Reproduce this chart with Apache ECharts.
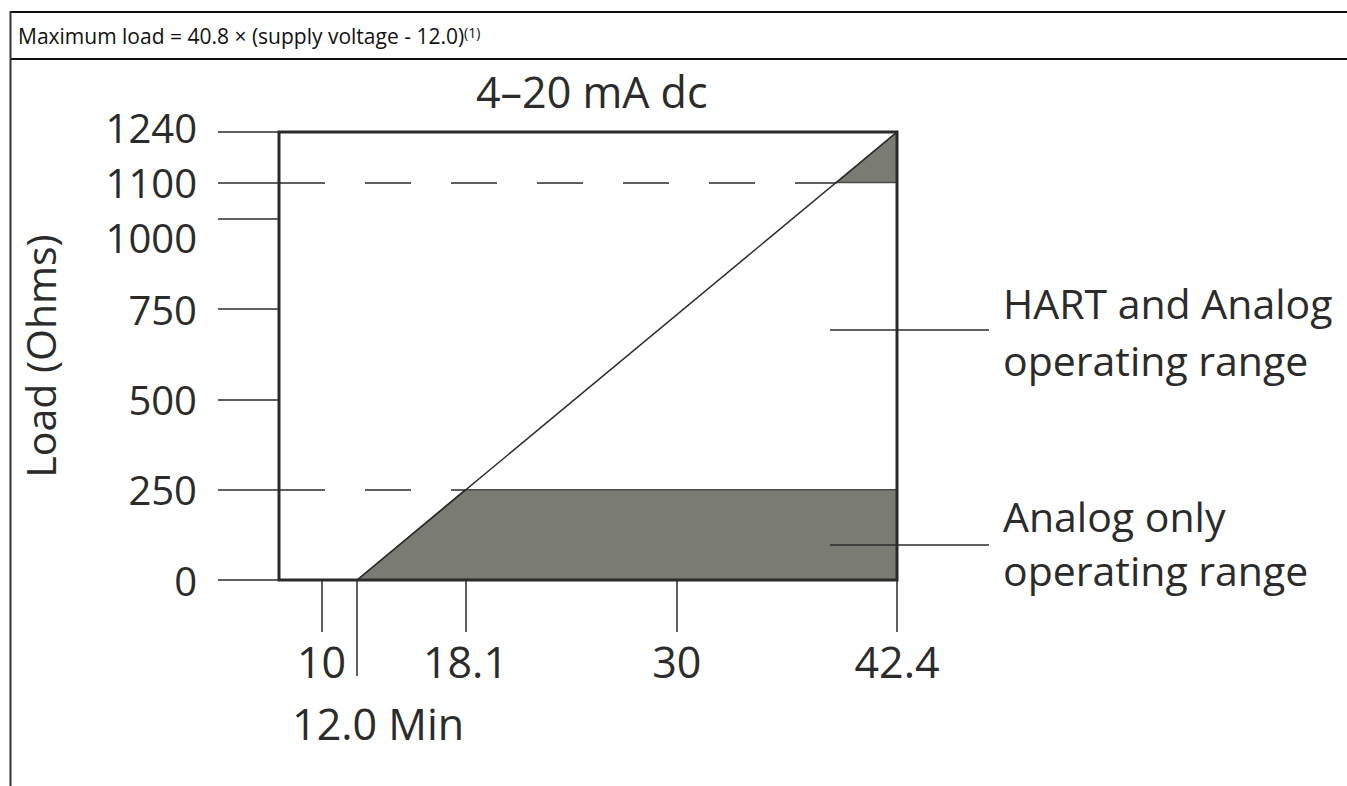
<!DOCTYPE html>
<html>
<head>
<meta charset="utf-8">
<script src="https://cdn.jsdelivr.net/npm/echarts@6/dist/echarts.min.js"></script>
<style>
html,body{margin:0;padding:0;background:#fff;}
#chart{width:1347px;height:786px;}
</style>
</head>
<body>
<div id="chart"></div>
<script>
// ---------- data ----------
const headerText = 'Maximum load = 40.8 × (supply voltage - 12.0)';
const headerNote = '(1)';
const titleText = '4–20 mA dc';
const yAxisName = 'Load (Ohms)';

const voltageMin = 7.6;
const voltageMax = 42.4;
const loadMin = 0;
const loadMax = 1240;

const xTickValues = [10, 18.1, 30, 42.4];
const xMinTickValues = [12.0];
const xMinTickLabel = '12.0 Min';
const yTickValues = [0, 250, 500, 750, 1000, 1100, 1240];

// maximum-load line
const limitVolts = [12.0, 42.4];
const limitLoads = [0, 1240];

// analog-only operating range (below 250 ohm)
const analogVolts = [12.0, 18.1, 42.4];
const analogLoads = [0, 250, 250];

// region above 1100 ohm (triangle under the limit line)
const upperVolts = [39.0, 42.4, 42.4];
const upperLoads = [1100, 1240, 1100];

// dashed reference levels and where they meet the limit line
const refLevels = [1100, 250];
const refLevelEnds = [39.0, 18.1];

const annotationTexts = ['HART and Analog\noperating range', 'Analog only\noperating range'];

// ---------- chart ----------
const FONT = 'Open Sans';
const INK = '#2b2b2b';
const FILL = '#7a7b73';
const EDGE = '#4a4a4a';

const pairs = (xs, ys) => xs.map((x, i) => [x, ys[i]]);

const chart = echarts.init(document.getElementById('chart'), null, {renderer: 'svg'});

const yLabelStyle = {fontSize: 40, fontFamily: FONT, color: INK};

const option = {
  backgroundColor: '#ffffff',
  animation: false,
  textStyle: {fontFamily: FONT},
  title: {
    text: titleText,
    left: 476,
    top: 70,
    padding: 0,
    textStyle: {fontFamily: FONT, fontSize: 43, fontWeight: 'normal', color: INK}
  },
  grid: {
    left: 279, top: 132, width: 618, height: 448,
    show: true, borderWidth: 3, borderColor: INK, backgroundColor: 'transparent',
    z: 10, outerBoundsMode: 'none', containLabel: false
  },
  xAxis: [
    {
      type: 'value', min: voltageMin, max: voltageMax, position: 'bottom',
      axisLine: {show: false}, splitLine: {show: false},
      axisTick: {show: true, inside: false, length: 52, customValues: xTickValues,
                 lineStyle: {color: INK, width: 1.5}},
      axisLabel: {show: true, customValues: xTickValues, margin: 60, fontSize: 43,
                  fontFamily: FONT, color: INK, formatter: v => String(v)}
    },
    {
      type: 'value', min: voltageMin, max: voltageMax, position: 'bottom',
      axisLine: {show: false}, splitLine: {show: false},
      axisTick: {show: true, inside: false, length: 96, customValues: xMinTickValues,
                 lineStyle: {color: INK, width: 1.5}},
      axisLabel: {show: true, customValues: xMinTickValues, margin: 122, fontSize: 43,
                  fontFamily: FONT, color: INK, padding: [0, 0, 0, 42],
                  formatter: () => xMinTickLabel}
    }
  ],
  yAxis: {
    type: 'value', min: loadMin, max: loadMax,
    axisLine: {show: false}, splitLine: {show: false},
    axisTick: {show: true, inside: false, length: 61, customValues: yTickValues,
               lineStyle: {color: INK, width: 1.5}},
    axisLabel: {
      show: true, customValues: yTickValues, margin: 82,
      fontSize: 40, fontFamily: FONT, color: INK,
      // keep the closely spaced top labels from colliding
      formatter: v => v === loadMax ? '{up|' + v + '}' : (v === 1000 ? '{down|' + v + '}' : '{n|' + v + '}'),
      rich: {
        n: yLabelStyle,
        up: Object.assign({padding: [0, 0, 10, 0]}, yLabelStyle),
        down: Object.assign({padding: [38, 0, 0, 0]}, yLabelStyle)
      }
    },
    name: yAxisName, nameLocation: 'middle', nameRotate: 90, nameGap: 219,
    nameTextStyle: {fontSize: 41, fontFamily: FONT, color: INK}
  },
  series: [
    {
      type: 'line', name: 'Analog only operating range',
      data: pairs(analogVolts, analogLoads),
      symbol: 'none', silent: true, z: 2,
      lineStyle: {color: EDGE, width: 1.5},
      areaStyle: {color: FILL, opacity: 1}
    },
    {
      type: 'custom', name: 'Above 1100 ohm', coordinateSystem: 'cartesian2d',
      data: pairs(upperVolts, upperLoads), silent: true, z: 2,
      renderItem: function (params, api) {
        if (params.dataIndex !== 0) return null;
        const pts = upperVolts.map((v, i) => api.coord([v, upperLoads[i]]));
        return {
          type: 'polygon',
          shape: {points: pts},
          style: {fill: FILL, stroke: EDGE, lineWidth: 1.5}
        };
      }
    },
    {
      type: 'line', name: 'Maximum load',
      data: pairs(limitVolts, limitLoads),
      symbol: 'none', silent: true, z: 3,
      lineStyle: {color: INK, width: 1.5},
      markLine: {
        silent: true, symbol: 'none', label: {show: false},
        lineStyle: {color: INK, width: 1.5, type: [46, 40]},
        data: refLevels.map((lv, i) => [{coord: [voltageMin, lv]}, {coord: [refLevelEnds[i], lv]}])
      }
    }
  ],
  graphic: [
    {type: 'line', z: 100, shape: {x1: 10.5, y1: 12, x2: 1347, y2: 12}, style: {stroke: '#111', lineWidth: 2}},
    {type: 'line', z: 100, shape: {x1: 10.5, y1: 59, x2: 1347, y2: 59}, style: {stroke: '#111', lineWidth: 2}},
    {type: 'line', z: 100, shape: {x1: 10.5, y1: 11, x2: 10.5, y2: 786}, style: {stroke: '#333', lineWidth: 2}},
    {
      type: 'text', z: 100, x: 18, y: 36,
      style: {
        text: '{a|' + headerText + '}{s|' + headerNote + '}',
        verticalAlign: 'middle', align: 'left',
        rich: {
          a: {fontSize: 21, fontFamily: FONT, fill: '#111'},
          s: {fontSize: 14, fontFamily: FONT, fill: '#111', verticalAlign: 'top'}
        }
      }
    },
    {type: 'line', z: 100, shape: {x1: 830, y1: 330, x2: 989, y2: 330}, style: {stroke: INK, lineWidth: 1.5}},
    {type: 'line', z: 100, shape: {x1: 830, y1: 545, x2: 989, y2: 545}, style: {stroke: INK, lineWidth: 1.5}},
    {
      type: 'text', z: 100, x: 1003, y: 331,
      style: {text: annotationTexts[0], fontSize: 41, lineHeight: 57, fontFamily: FONT, fill: INK,
              align: 'left', verticalAlign: 'middle'}
    },
    {
      type: 'text', z: 100, x: 1003, y: 543,
      style: {text: annotationTexts[1], fontSize: 41, lineHeight: 54, fontFamily: FONT, fill: INK,
              align: 'left', verticalAlign: 'middle'}
    }
  ]
};

chart.setOption(option);
</script>
</body>
</html>
